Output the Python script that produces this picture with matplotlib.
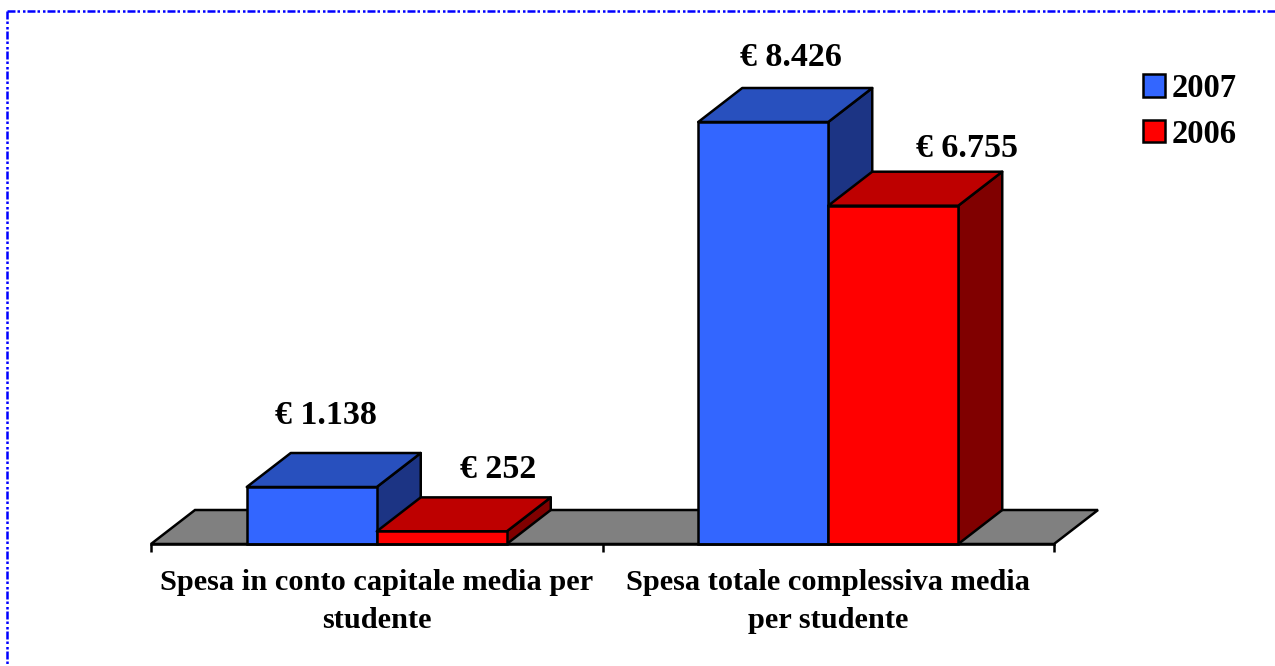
import matplotlib
matplotlib.use("Agg")
import matplotlib.pyplot as plt
from matplotlib.lines import Line2D
from matplotlib.patches import Polygon

categories = ["Spesa in conto capitale media per\nstudente",
              "Spesa totale complessiva media\nper studente"]
series_names = ["2007", "2006"]
values_2007 = [1138, 8426]
values_2006 = [252, 6755]
value_labels_2007 = ["€ 1.138", "€ 8.426"]
value_labels_2006 = ["€ 252", "€ 6.755"]

W, H = 1275, 666
plt.rcParams['font.family'] = ['Liberation Serif', 'DejaVu Serif']
fig = plt.figure(figsize=(W / 100, H / 100), dpi=100)
left, right, bottom, top = 151, 1054, 544, 122
ax = fig.add_axes([left / W, 1 - bottom / H, (right - left) / W, (bottom - top) / H])
ax.set_xlim(0, 2)
ax.set_ylim(0, 8426)

px_x = 2 / (right - left)
px_y = 8426 / (bottom - top)
dx, dy = 44 * px_x, 34 * px_y
bw = 130 * px_x
LW = 1.8

fronts = ["#3366FF", "#FF0000"]
tops = ["#2850BE", "#BE0000"]
sides = ["#1C3484", "#800000"]

# floor
ax.add_patch(Polygon([(0, 0), (2, 0), (2 + dx, dy), (dx, dy)], closed=True,
                     fc="#808080", ec="black", lw=LW, zorder=1, clip_on=False))

all_series = [values_2007, values_2006]
for s, vals in enumerate(all_series):
    for c, v in enumerate(vals):
        x0 = c + 0.5 + (s - 1) * bw
        x1 = x0 + bw
        z = 2 + s
        ax.add_patch(Polygon([(x1, 0), (x1 + dx, dy), (x1 + dx, v + dy), (x1, v)], closed=True,
                             fc=sides[s], ec="black", lw=LW, joinstyle="round", zorder=z, clip_on=False))
        ax.add_patch(Polygon([(x0, v), (x1, v), (x1 + dx, v + dy), (x0 + dx, v + dy)], closed=True,
                             fc=tops[s], ec="black", lw=LW, joinstyle="round", zorder=z, clip_on=False))
    ax.bar([c + 0.5 + (s - 0.5) * bw for c in range(2)], vals, width=bw,
           color=fronts[s], edgecolor="black", linewidth=LW, zorder=2 + s + 0.5,
           label=series_names[s], clip_on=False)

# value labels, placed by hand in the original
offsets_2007 = [(14, 72), (28, 64)]
offsets_2006 = [(56, 62), (74, 57)]
for s, (vals, labs, offs) in enumerate(zip(all_series, [value_labels_2007, value_labels_2006],
                                           [offsets_2007, offsets_2006])):
    for c, (v, t, o) in enumerate(zip(vals, labs, offs)):
        ax.annotate(t, xy=(c + 0.5 + (s - 0.5) * bw, v), xytext=o, textcoords="offset pixels",
                    ha="center", va="center", fontsize=24.5, fontweight="bold", color="black",
                    annotation_clip=False, zorder=20)

for sp in ["top", "left", "right"]:
    ax.spines[sp].set_visible(False)
ax.spines["bottom"].set_linewidth(LW)
ax.spines["bottom"].set_zorder(10)
ax.yaxis.set_visible(False)
ax.patch.set_alpha(0)
ax.set_xticks([0, 1, 2])
ax.set_xticklabels([])
ax.tick_params(axis="x", which="major", length=6, width=LW)
ax.set_xticks([0.5, 1.5], minor=True)
ax.set_xticklabels(categories, minor=True, fontsize=21.9, fontweight="bold", linespacing=1.5)
ax.tick_params(axis="x", which="minor", length=0, pad=18)

handles, labels = ax.get_legend_handles_labels()
leg = ax.legend(handles, labels, loc="upper left", bbox_to_anchor=(1143 / W, 1 - 73 / H),
                bbox_transform=fig.transFigure, frameon=False, prop={"size": 23.5, "weight": "bold"},
                handlelength=0.67, handleheight=0.67, handletextpad=0.22,
                labelspacing=0.45, borderpad=0, borderaxespad=0)

# dash-dot-dot page border
border = dict(color="#0000FF", lw=1.8, linestyle=(0, (3.2, 0.8, 1, 1.2, 1, 0.8)),
              transform=fig.transFigure, dash_capstyle="butt")
fig.add_artist(Line2D([7 / W, 1], [1 - 10.5 / H, 1 - 10.5 / H], **border))
fig.add_artist(Line2D([7 / W, 7 / W], [1 - 10.5 / H, 1 - 665 / H], **border))

fig.savefig("out.png", dpi=100, facecolor="white")
